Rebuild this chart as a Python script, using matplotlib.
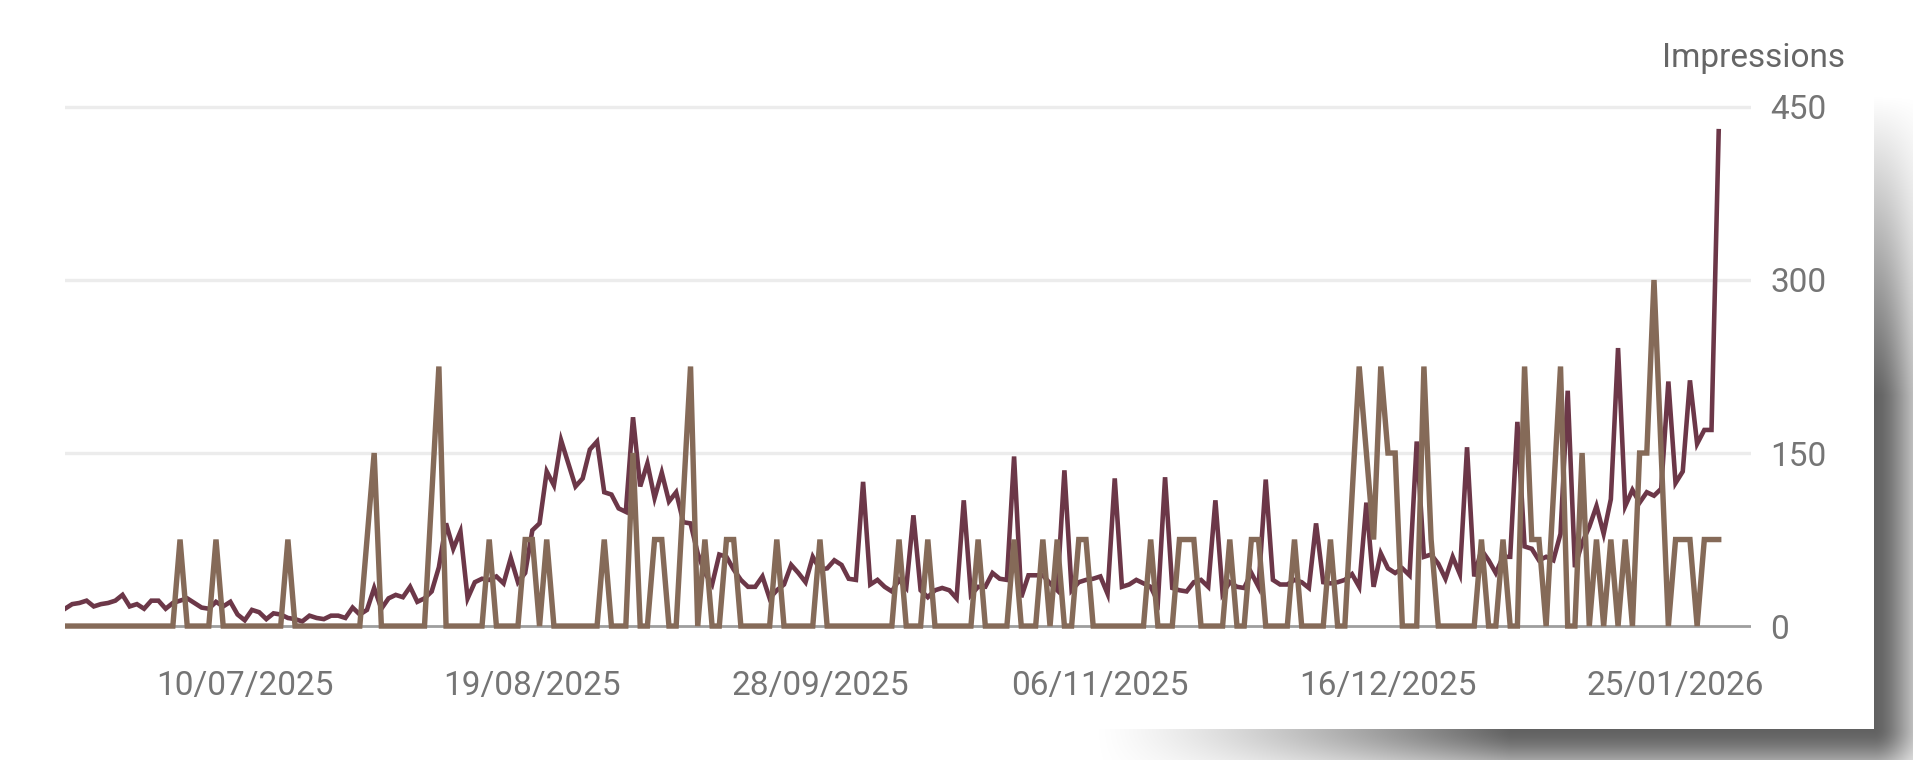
import numpy as np
import pandas as pd
import matplotlib
matplotlib.use("Agg")
import matplotlib.pyplot as plt
import matplotlib.dates as mdates

plt.rcParams['font.family'] = ['Roboto', 'DejaVu Sans']

# daily series, 15/06/2025 -> 31/01/2026
dates = pd.date_range('2025-06-15', periods=231, freq='D')

impressions = [
    15, 19, 20, 22, 17, 19, 20, 22, 27, 17,
    19, 15, 22, 22, 15, 20, 22, 24, 20, 16,
    15, 21, 17, 21, 10, 5, 14, 12, 6, 11,
    10, 7, 6, 4, 9, 7, 6, 9, 9, 7,
    16, 10, 14, 33, 15, 24, 27, 25, 34, 21,
    24, 30, 51, 89, 67, 82, 24, 38, 41, 40,
    43, 37, 59, 38, 46, 83, 89, 134, 122, 161,
    141, 121, 128, 153, 160, 116, 114, 102, 99, 181,
    121, 141, 111, 133, 108, 116, 90, 89, 63, 46,
    36, 62, 60, 49, 40, 34, 34, 43, 24, 31,
    36, 53, 46, 38, 60, 49, 50, 57, 53, 41,
    40, 125, 36, 40, 34, 30, 40, 33, 96, 31,
    25, 31, 33, 31, 24, 109, 27, 34, 34, 46,
    41, 40, 147, 25, 44, 44, 44, 37, 31, 135,
    31, 38, 40, 41, 43, 28, 128, 34, 36, 40,
    37, 34, 21, 129, 33, 31, 30, 38, 40, 34,
    109, 28, 38, 34, 33, 46, 34, 127, 40, 36,
    36, 40, 38, 33, 89, 38, 37, 38, 40, 45,
    34, 107, 34, 63, 50, 46, 50, 44, 160, 60,
    62, 54, 41, 60, 45, 155, 43, 66, 57, 46,
    60, 60, 177, 69, 67, 57, 60, 57, 80, 204,
    51, 72, 86, 104, 80, 110, 241, 104, 118, 107,
    116, 113, 119, 212, 124, 134, 213, 158, 170, 170,
    429,
]

clicks = [
    0, 0, 0, 0, 0, 0, 0, 0, 0, 0,
    0, 0, 0, 0, 0, 0, 1, 0, 0, 0,
    0, 1, 0, 0, 0, 0, 0, 0, 0, 0,
    0, 1, 0, 0, 0, 0, 0, 0, 0, 0,
    0, 0, 1, 2, 0, 0, 0, 0, 0, 0,
    0, 1.5, 3, 0, 0, 0, 0, 0, 0, 1,
    0, 0, 0, 0, 1, 1, 0, 1, 0, 0,
    0, 0, 0, 0, 0, 1, 0, 0, 0, 2,
    0, 0, 1, 1, 0, 0, 1.5, 3, 0, 1,
    0, 0, 1, 1, 0, 0, 0, 0, 0, 1,
    0, 0, 0, 0, 0, 1, 0, 0, 0, 0,
    0, 0, 0, 0, 0, 0, 1, 0, 0, 0,
    1, 0, 0, 0, 0, 0, 0, 1, 0, 0,
    0, 0, 1, 0, 0, 0, 1, 0, 1, 0,
    0, 1, 1, 0, 0, 0, 0, 0, 0, 0,
    0, 1, 0, 0, 0, 1, 1, 1, 0, 0,
    0, 0, 1, 0, 0, 1, 1, 0, 0, 0,
    0, 1, 0, 0, 0, 0, 1, 0, 0, 1.5,
    3, 2, 1, 3, 2, 2, 0, 0, 0, 3,
    1, 0, 0, 0, 0, 0, 0, 1, 0, 0,
    1, 0, 0, 3, 1, 1, 0, 1.5, 3, 0,
    0, 2, 0, 1, 0, 1, 0, 1, 0, 2,
    2, 4, 2, 0, 1, 1, 1, 0, 1, 1,
    1,
]

tick_dates = ['2025-07-10', '2025-08-19', '2025-09-28', '2025-11-06', '2025-12-16', '2026-01-25']
y_ticks = [0, 150, 300, 450]

W, H = 1913, 760
fig = plt.figure(figsize=(W / 100, H / 100), dpi=100)
fig.patch.set_facecolor('white')

# soft card shadow at the right / bottom edge
yy, xx = np.mgrid[0:H, 0:W].astype(float)
dx = np.clip(xx - 1873, 0, None)
dy = np.clip(yy - 728, 0, None)
fall = np.exp(-(dx ** 2 + dy ** 2) / (2 * 30 ** 2))
ramp_x = np.clip((xx - 1090) / 420, 0, 1) ** 1.3
ramp_y = np.clip((yy - 95) / 300, 0, 1)
alpha = 0.62 * fall * ramp_x * ramp_y * ((dx > 0) | (dy > 0))
shadow = np.zeros((H, W, 4))
shadow[..., 3] = alpha
fig.figimage(shadow, xo=0, yo=0, origin='upper', zorder=0)

ax = fig.add_axes([65 / W, 1 - 629.5 / H, (1751 - 65) / W, (629.5 - 101.2) / H])
ax.set_facecolor('none')
ax.plot(dates, impressions, color='#6c3748', lw=3.3, solid_joinstyle='miter', zorder=3)

ax2 = ax.twinx()
ax2.plot(dates, clicks, color='#856a58', lw=3.9, solid_joinstyle='miter', zorder=3)
ax2.set_ylim(-3 / 75, 455 / 75)
ax2.set_yticks([])
for s in ax2.spines.values():
    s.set_visible(False)

x0 = mdates.date2num(dates[0])
ax.set_xlim(x0, x0 + (1751 - 65) / 7.19)
ax.set_ylim(-3, 455)
ax.set_yticks(y_ticks)
ax.set_yticklabels([str(v) for v in y_ticks])
ax.yaxis.tick_right()
ax.set_xticks(mdates.date2num(pd.to_datetime(tick_dates)))
ax.xaxis.set_major_formatter(mdates.DateFormatter('%d/%m/%Y'))
ax.tick_params(axis='both', length=0, labelsize=24, labelcolor='#757575')
ax.tick_params(axis='x', pad=29.5)
ax.tick_params(axis='y', pad=14)
for s in ax.spines.values():
    s.set_visible(False)

for v in y_ticks[1:]:
    ax.axhline(v, color='#ececec', lw=2.4, zorder=1)
ax.axhline(0, color='#9e9e9e', lw=2.0, zorder=2)

fig.text(1845 / W, 1 - 58 / H, 'Impressions', ha='right', va='center',
         fontsize=24, color='#666666')

fig.savefig('out.png', dpi=100)
